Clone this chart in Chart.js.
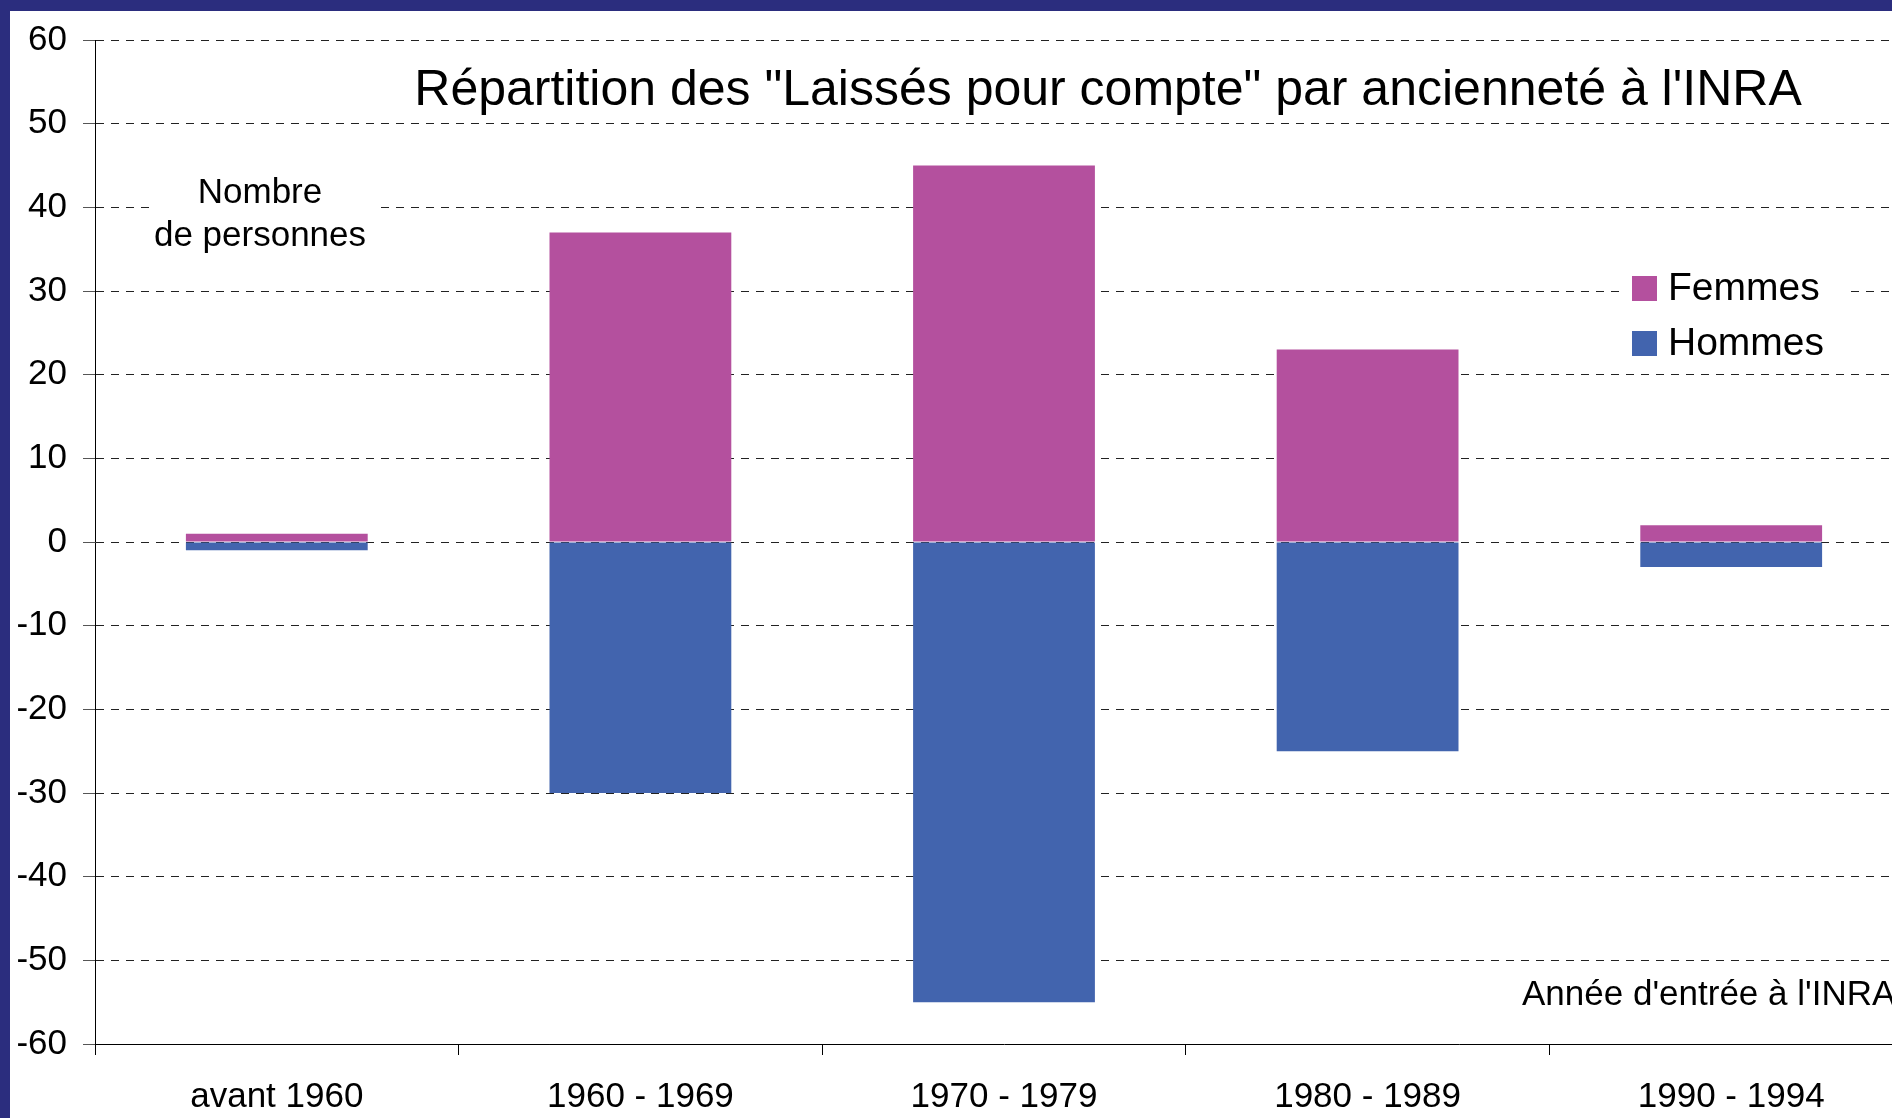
<!DOCTYPE html>
<html>
<head>
<meta charset="utf-8">
<script src="https://cdn.jsdelivr.net/npm/chart.js@4/dist/chart.umd.min.js"></script>
<style>
  html, body { margin: 0; padding: 0; width: 1892px; height: 1118px; overflow: hidden; background: #ffffff; }
  #barLeft { position: absolute; left: 0; top: 0; width: 10px; height: 1118px; background: #2B2D7E; }
  #barTop { position: absolute; left: 0; top: 0; width: 1892px; height: 11px; background: #2B2D7E; }
  #c { position: absolute; left: 10px; top: 11px; }
</style>
</head>
<body>
<div id="barLeft"></div>
<div id="barTop"></div>
<canvas id="c" width="1920" height="1107"></canvas>
<script>
const categories = ["avant 1960", "1960 - 1969", "1970 - 1979", "1980 - 1989", "1990 - 1994"];
const femmes = [1, 37, 45, 23, 2];
const hommes = [-1, -30, -55, -25, -3];
const yTicks = [60, 50, 40, 30, 20, 10, 0, -10, -20, -30, -40, -50, -60];
const seriesNames = ["Femmes", "Hommes"];
const seriesColors = ["#B4509E", "#4264AE"];
const titleText = 'Répartition des "Laissés pour compte" par ancienneté à l\'INRA';
const yAxisNote = ["Nombre", "de personnes"];
const xAxisNote = "Année d'entrée à l'INRA";

const FONT = '"Liberation Sans", Arial, sans-serif';

const annotations = {
  id: 'annotations',
  beforeDatasetsDraw(chart) {
    const ctx = chart.ctx;
    const a = chart.chartArea;
    ctx.save();
    ctx.fillStyle = '#ffffff';
    // white backgrounds behind the axis note and the legend
    ctx.fillRect(a.left + 55, a.top + 150, 225, 70);
    ctx.fillRect(a.left + 1525, a.top + 225, 225, 105);
    ctx.restore();
  },
  afterDraw(chart) {
    const ctx = chart.ctx;
    const a = chart.chartArea;
    ctx.save();
    ctx.fillStyle = '#000000';
    ctx.textBaseline = 'alphabetic';
    // title
    ctx.font = '50px ' + FONT;
    ctx.textAlign = 'center';
    ctx.fillText(titleText, a.left + 1013, a.top + 65);
    // y axis note
    ctx.font = '35px ' + FONT;
    ctx.fillText(yAxisNote[0], a.left + 165, a.top + 163);
    ctx.fillText(yAxisNote[1], a.left + 165, a.top + 206);
    // x axis note
    ctx.textAlign = 'left';
    ctx.fillText(xAxisNote, a.left + 1427, a.bottom - 39);
    // legend
    ctx.font = '39px ' + FONT;
    chart.data.datasets.forEach((ds, i) => {
      const y = a.top + 236 + i * 55;
      ctx.fillStyle = ds.backgroundColor;
      ctx.fillRect(a.left + 1537, y, 25, 25);
      ctx.fillStyle = '#000000';
      ctx.fillText(ds.label, a.left + 1573, y + 24);
    });
    ctx.restore();
  }
};

new Chart(document.getElementById('c'), {
  type: 'bar',
  data: {
    labels: categories,
    datasets: [
      { label: seriesNames[0], data: femmes, backgroundColor: seriesColors[0], borderWidth: 0 },
      { label: seriesNames[1], data: hommes, backgroundColor: seriesColors[1], borderWidth: 0 }
    ]
  },
  options: {
    responsive: false,
    devicePixelRatio: 1,
    animation: false,
    categoryPercentage: 0.5,
    barPercentage: 1.0,
    layout: { padding: { left: 0, top: 29, right: 17, bottom: 0 } },
    plugins: {
      legend: { display: false },
      title: { display: false },
      tooltip: { enabled: false }
    },
    scales: {
      x: {
        stacked: true,
        grid: {
          display: true,
          offset: true,
          drawOnChartArea: false,
          drawTicks: true,
          tickLength: 11,
          tickColor: '#000000',
          tickWidth: 1
        },
        border: { display: true, color: '#000000', width: 1 },
        ticks: {
          color: '#000000',
          font: { family: FONT, size: 35 },
          padding: 21,
          maxRotation: 0,
          autoSkip: false
        },
        afterFit(scale) { scale.height = 74; scale.paddingLeft = 0; scale.paddingRight = 0; }
      },
      y: {
        stacked: true,
        min: -60,
        max: 60,
        afterBuildTicks(scale) { scale.ticks = yTicks.map(v => ({ value: v })); },
        grid: {
          color: '#222222',
          lineWidth: 1,
          drawTicks: true,
          tickLength: 12,
          tickColor: '#555555',
          tickBorderDash: []
        },
        border: { display: true, color: '#000000', width: 1, dash: [8, 7] },
        ticks: {
          color: '#000000',
          font: { family: FONT, size: 35 },
          padding: 16,
          callback: (v) => String(v)
        },
        afterFit(scale) { scale.width = 85; scale.paddingTop = 0; scale.paddingBottom = 0; }
      }
    }
  },
  plugins: [annotations]
});
</script>
</body>
</html>
